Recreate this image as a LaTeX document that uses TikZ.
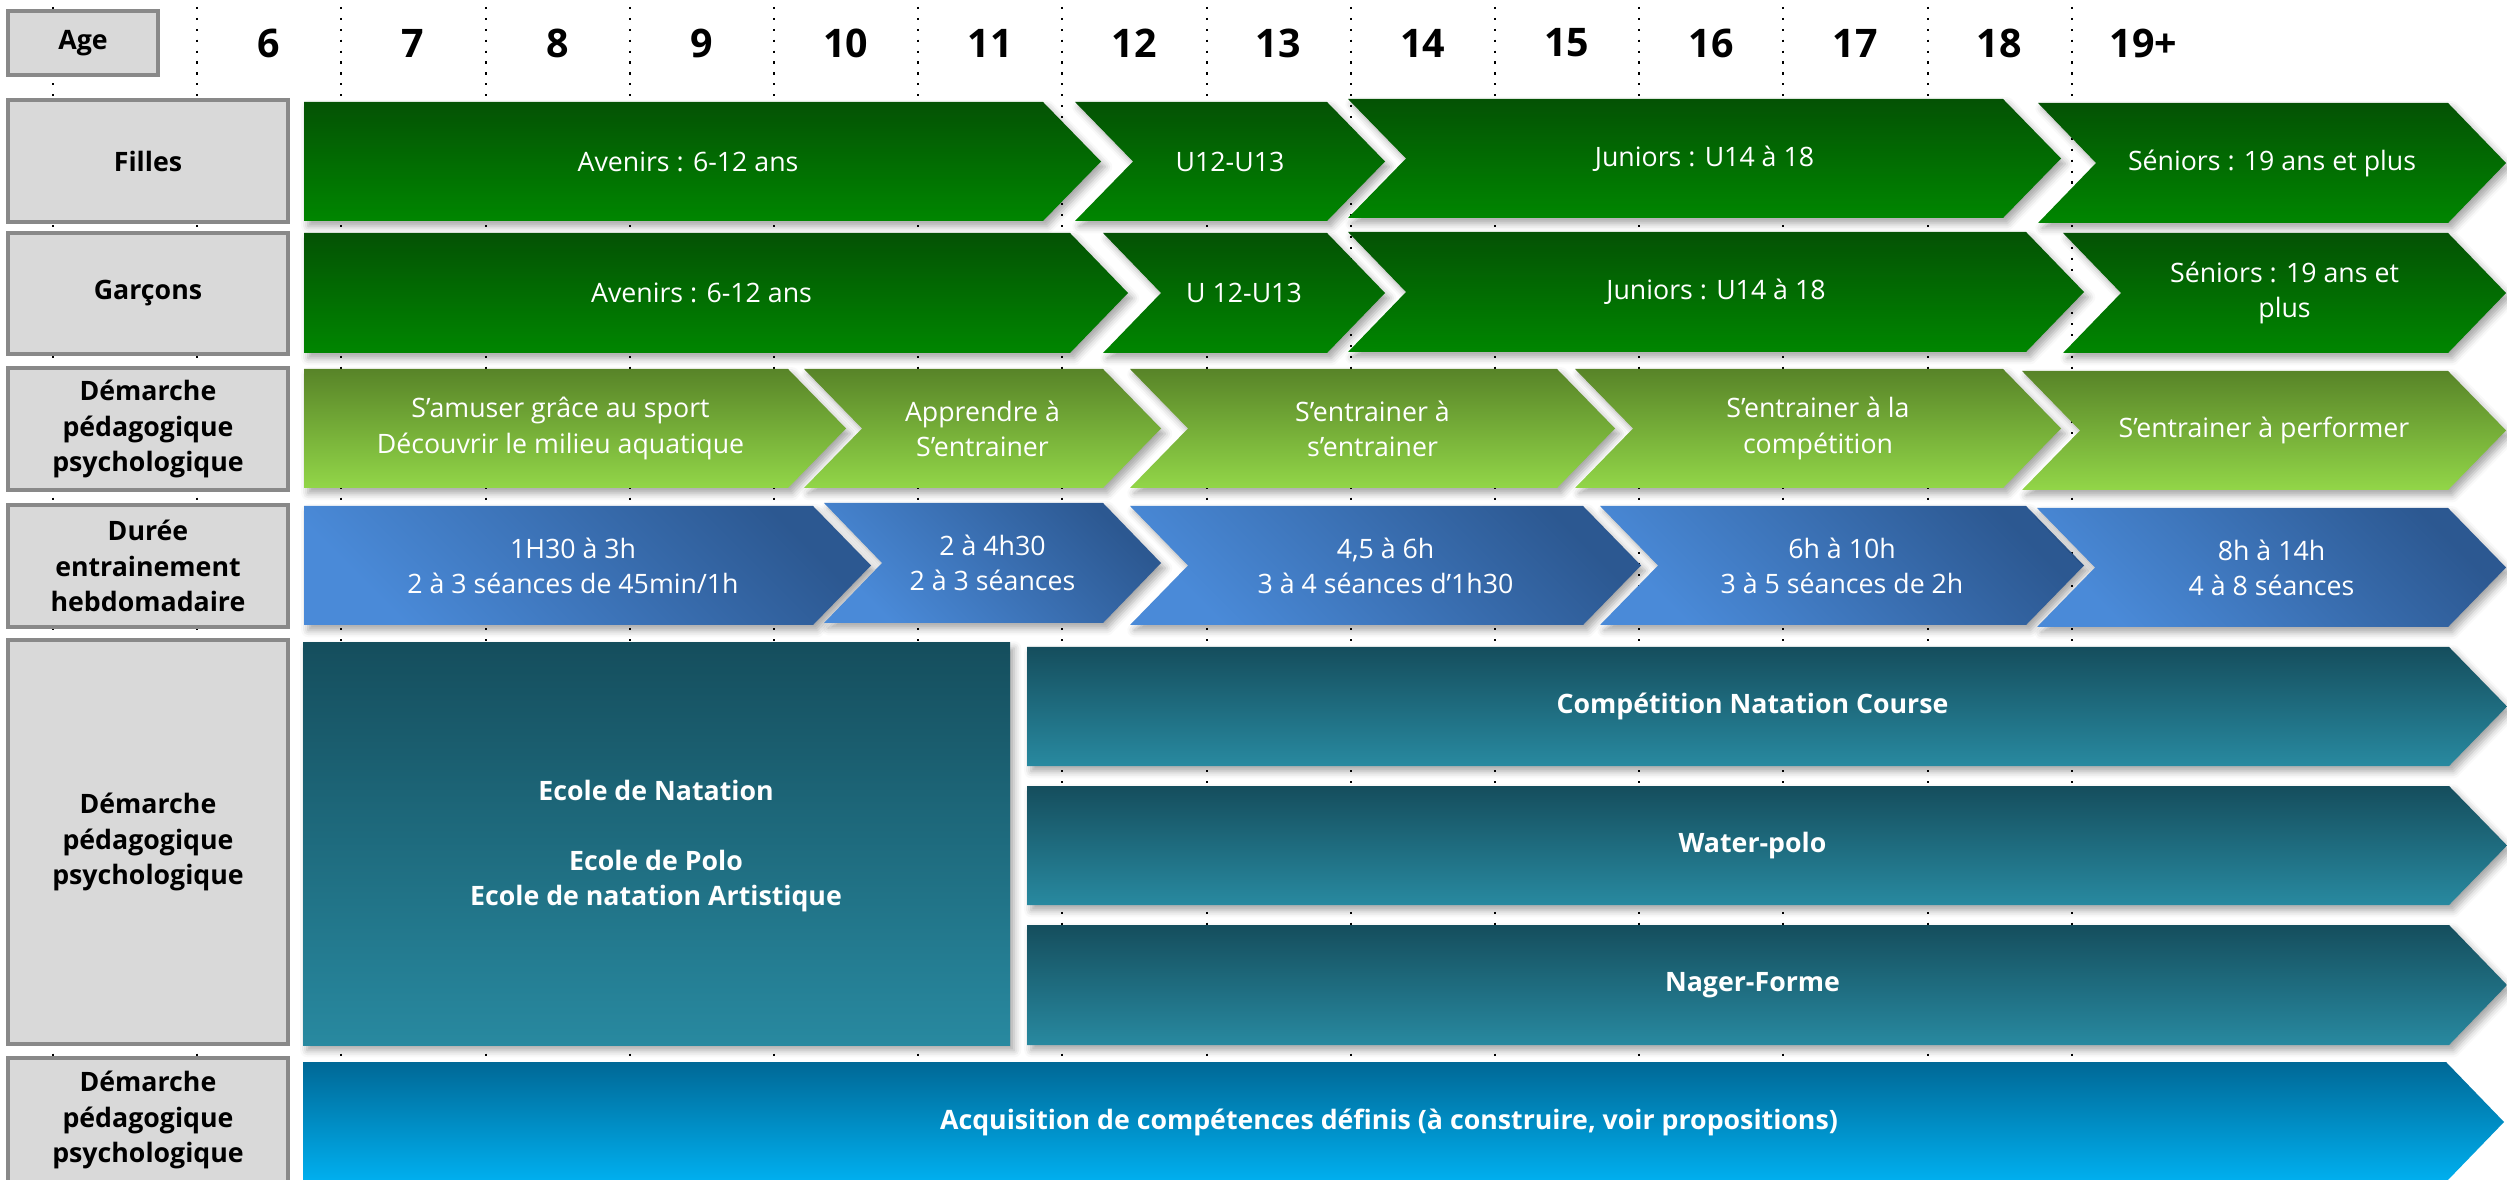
\documentclass[tikz,border=0pt]{standalone}
\usepackage{fontspec}
\setmainfont{Open Sans}
\usetikzlibrary{shadows.blur}
\definecolor{lblfill}{RGB}{217,217,217}
\definecolor{lblline}{RGB}{137,137,137}
\definecolor{grtop}{RGB}{4,82,4}
\definecolor{grbot}{RGB}{0,134,0}
\definecolor{lmtop}{RGB}{88,132,40}
\definecolor{lmbot}{RGB}{146,214,72}
\definecolor{bldark}{RGB}{44,88,145}
\definecolor{bllight}{RGB}{74,138,216}
\definecolor{tltop}{RGB}{21,78,93}
\definecolor{tlbot}{RGB}{40,137,160}
\definecolor{sktop}{RGB}{0,104,150}
\definecolor{skbot}{RGB}{0,176,240}
\newcommand{\tipd}{58}
% arrow band: style, name, left x, corner x, top y, bottom y, notch depth, text
\newcommand{\chevron}[8]{%
  \path[#1] (#3,#5) -- (#4,#5) -- ({#4+\tipd},{(#5+#6)/2}) -- (#4,#6)
    -- (#3,#6) -- ({#3+#7},{(#5+#6)/2}) -- cycle;
  \node[bartext] (#2) at ({(#3+#7+#4+(\tipd-#7)/2)/2},{(#5+#6)/2}) {#8};}
\tikzset{
  lblbox/.style={draw=lblline, line width=1.1pt, fill=lblfill, align=center, inner sep=0pt,
    minimum width=2.8cm, font=\fontsize{7.6}{10}\selectfont\bfseries},
  agenum/.style={font=\fontsize{11.2}{12}\selectfont\bfseries},
  gridline/.style={line width=0.6pt, dash pattern=on 0.6pt off 2.5pt},
  bartext/.style={text=white, align=center, font=\fontsize{7.6}{10}\selectfont},
  shade/.style={blur shadow={shadow xshift=1.2pt, shadow yshift=-1.5pt, shadow blur radius=2pt, shadow opacity=35}},
  greenbar/.style={shade, top color=grtop, bottom color=grbot},
  limebar/.style={shade, top color=lmtop, bottom color=lmbot},
  bluebar/.style={shade, top color=bldark, bottom color=bllight, shading angle=-45},
  tealbar/.style={shade, top color=tltop, bottom color=tlbot},
  skybar/.style={top color=sktop, bottom color=skbot}
}

\begin{document}
\begin{tikzpicture}[x=0.01cm, y=-0.01cm]
  \useasboundingbox (0,0) rectangle (2507,1180);

  % dotted year grid
  \foreach \k in {0,...,14}
    \draw[gridline] ({53+144.2*\k},7) -- ({53+144.2*\k},1180);

  % row headers
  \node[lblbox, minimum width=1.5cm, minimum height=0.64cm] (age) at (83,43) {Age};
  \node[lblbox, minimum height=1.22cm] (filles) at (148,161) {Filles};
  \node[lblbox, minimum height=1.21cm] (garcons) at (148,293.5) {Garçons};
  \node[lblbox, minimum height=1.22cm] (demarche) at (148,429) {Démarche\\pédagogique\\psychologique};
  \node[lblbox, minimum height=1.22cm] (duree) at (148,566) {Durée\\entrainement\\hebdomadaire};
  \node[lblbox, minimum height=4.04cm] (filieres) at (148,842) {Démarche\\pédagogique\\psychologique};
  \node[lblbox, minimum height=1.24cm] (acquis) at (148,1120) {Démarche\\pédagogique\\psychologique};

  % ages
  \foreach \a [count=\i from 0] in {6,7,8,9,10,11,12,13,14,15,16,17,18,19+}
    \node[agenum] (age\i) at ({269+144.2*\i},43) {\a};

  % filles
  \chevron{greenbar}{favenirs}{304}{1043}{102}{221}{0}{Avenirs : 6-12 ans}
  \chevron{greenbar}{fu12}{1075}{1327}{102}{221}{58}{U12-U13}
  \chevron{greenbar}{fjuniors}{1348}{2003}{99}{218}{58}{Juniors : U14 à 18}
  \chevron{greenbar}{fseniors}{2038}{2448}{103}{223}{58}{Séniors : 19 ans et plus}

  % garçons
  \chevron{greenbar}{gavenirs}{304}{1070}{233}{353}{0}{Avenirs : 6-12 ans}
  \chevron{greenbar}{gu12}{1103}{1327}{233}{353}{58}{U 12-U13}
  \chevron{greenbar}{gjuniors}{1348}{2026}{232}{352}{58}{Juniors : U14 à 18}
  \chevron{greenbar}{gseniors}{2063}{2448}{233}{353}{58}{Séniors : 19 ans et\\plus}

  % démarche
  \chevron{limebar}{amuser}{304}{788}{369}{488}{0}{S’amuser grâce au sport\\Découvrir le milieu aquatique}
  \chevron{limebar}{apprendre}{804}{1103}{369}{488}{58}{Apprendre à\\S’entrainer}
  \chevron{limebar}{entrainer}{1130}{1557}{369}{488}{58}{S’entrainer à\\s’entrainer}
  \chevron{limebar}{competition}{1575}{2003}{369}{488}{58}{S’entrainer à la\\compétition}
  \chevron{limebar}{performer}{2022}{2448}{371}{490}{58}{S’entrainer à performer}

  % durée
  \chevron{bluebar}{dureea}{304}{813}{506}{625}{0}{1H30 à 3h\\2 à 3 séances de 45min/1h}
  \chevron{bluebar}{dureeb}{824}{1103}{503}{623}{58}{2 à 4h30\\2 à 3 séances}
  \chevron{bluebar}{dureec}{1130}{1583}{506}{625}{58}{4,5 à 6h\\3 à 4 séances d’1h30}
  \chevron{bluebar}{dureed}{1600}{2026}{506}{625}{58}{6h à 10h\\3 à 5 séances de 2h}
  \chevron{bluebar}{dureee}{2037}{2448}{508}{627}{58}{8h à 14h\\4 à 8 séances}

  % écoles et filières
  \path[tealbar] (303,643) rectangle (1010,1045);
  \node[bartext, font=\fontsize{7.6}{10}\selectfont\bfseries] (ecoles) at (656,846)
    {Ecole de Natation\\[10pt]Ecole de Polo\\Ecole de natation Artistique};
  \chevron{tealbar}{course}{1027}{2449}{647}{766}{0}{\bfseries Compétition Natation Course}
  \chevron{tealbar}{waterpolo}{1027}{2449}{786}{905}{0}{\bfseries Water-polo}
  \chevron{tealbar}{nagerforme}{1027}{2449}{925}{1045}{0}{\bfseries Nager-Forme}

  % compétences
  \chevron{skybar}{competences}{303}{2446}{1062}{1182}{0}{\bfseries Acquisition de compétences définis (à construire, voir propositions)}
\end{tikzpicture}
\end{document}
